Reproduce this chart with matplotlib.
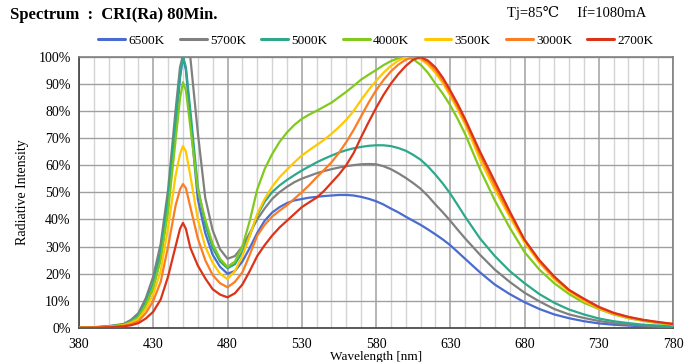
import matplotlib
matplotlib.use("Agg")
import matplotlib.pyplot as plt
from matplotlib.ticker import MultipleLocator, FuncFormatter

wavelength = [380, 390, 400,
              410, 415, 420, 425, 430, 435, 440, 445,
              448, 450, 452,
              455, 460, 465, 470, 475, 480, 485, 490, 495, 500,
              505, 510, 515, 520, 525, 530, 535, 540, 545, 550,
              555, 560, 565, 570, 575, 580, 585, 590, 595, 600,
              605, 610, 615, 620, 625, 630, 635, 640, 645, 650,
              660, 670, 680, 690, 700, 710, 720, 730, 740, 750, 760, 770, 780]

k6500 = [0.1, 0.2, 0.5,
         1.2, 2.2, 4, 8.5, 15, 26, 45, 74,
         92, 100, 95,
         77, 47.5, 35, 27, 22.5, 20, 21, 24.5, 29.5, 35,
         39.5, 42.5, 44.5, 46, 47, 47.5, 48, 48.3, 48.6, 48.8,
         49, 49, 48.8, 48.3, 47.6, 46.7, 45.5, 44, 42.6, 41,
         39.5, 38, 36.3, 34.5, 32.6, 30.5, 28, 25.5, 23, 20.5,
         16, 12.5, 9.5, 7, 5, 3.6, 2.5, 1.7, 1.2, 0.9, 0.6, 0.4, 0.3]

k5700 = [0.1, 0.3, 0.7,
         1.5, 3, 5.5, 11, 19, 31, 51, 80,
         96, 100.5, 102,
         99.5, 72, 48, 36, 29, 25.5, 26.5, 30, 35, 40,
         44, 47.5, 50, 52, 53.7, 55, 56, 57, 57.8, 58.5,
         59.1, 59.6, 60, 60.3, 60.4, 60.3, 59.6, 58.5, 57, 55.3,
         53.4, 51.3, 48.6, 45.5, 42.6, 39.5, 36.2, 33, 30, 27,
         21.5, 17, 13, 9.8, 7, 5, 3.7, 2.6, 1.8, 1.3, 0.9, 0.6, 0.4]

k5000 = [0.1, 0.2, 0.6,
         1.3, 2.5, 4.5, 9.5, 16.5, 28, 48, 76,
         93, 100, 96,
         80, 52, 38, 29.5, 24.5, 22, 23.5, 28, 34, 41.5,
         46.5, 50, 52.5, 54.5, 56.3, 58, 59.5, 61, 62.3, 63.5,
         64.6, 65.5, 66.2, 66.7, 67.1, 67.3, 67.3, 67, 66.3, 65.3,
         63.8, 62, 59.5, 56.5, 53.2, 49.5, 45.3, 41, 37, 33,
         26.5, 21, 16.5, 12.5, 9.3, 6.8, 5, 3.5, 2.5, 1.8, 1.2, 0.9, 0.6]

k4000 = [0.1, 0.2, 0.5,
         1.2, 2.2, 4, 8.5, 15, 25, 43, 69,
         84.5, 90.5, 87.5,
         74, 51, 40, 31, 25.5, 22.5, 24.5, 30, 39.5, 51,
         58.5, 64, 68.5, 72, 74.8, 77, 78.6, 80, 81.5, 83,
         85, 87, 89.2, 91.5, 93.3, 95, 96.8, 98.3, 99.4, 99.8,
         99, 97, 94, 90, 86.3, 82, 77, 71.5, 65, 58.5,
         47, 37, 28, 21.5, 16.5, 12.5, 9.3, 7, 5, 3.6, 2.6, 1.8, 1.2]

k3500 = [0.1, 0.2, 0.4,
         1, 1.8, 3.2, 7, 12.5, 21, 37, 56,
         64, 67, 65,
         56, 40, 30, 24, 20, 18, 21, 26.5, 34, 42,
         47.5, 52, 55.5, 58.3, 61, 63.5, 65.5, 67.4, 69.3, 71.5,
         74, 76.7, 80, 84, 87.7, 91, 94, 96.5, 98.5, 99.7,
         100, 99, 97, 94, 90.2, 85.5, 80.5, 75, 68.7, 62,
         51, 41, 31.5, 24, 18, 13.5, 10, 7.2, 5.2, 3.8, 2.8, 2, 1.4]

k3000 = [0.05, 0.15, 0.3,
         0.8, 1.4, 2.5, 5.5, 10, 17, 30, 45,
         51, 53, 51.5,
         44.5, 33, 25, 19.5, 16.5, 15, 17, 20.5, 27, 34,
         38, 41, 43.2, 45.2, 47.6, 50, 52.6, 55.5, 58.2, 61,
         64.5, 68.5, 73, 78, 83, 87.5, 91.3, 94.5, 97, 98.8,
         99.8, 99.5, 97.8, 95, 91.2, 86.5, 81.5, 76, 70, 63.8,
         52.5, 42, 32.5, 24.5, 18.5, 14, 10.5, 7.5, 5.4, 4, 2.9, 2.1, 1.5]

k2700 = [0.05, 0.1, 0.25,
         0.6, 1, 1.8, 3.5, 6, 10.5, 19, 30,
         36.5, 38.7, 36.5,
         29.5, 23, 18.3, 14.3, 12.3, 11.3, 12.8, 16, 21, 26.5,
         30.5, 34, 37, 39.5, 42, 44.5, 46.3, 48, 50.5, 53.5,
         56.5, 60, 64.5, 70.3, 75.8, 81, 85.8, 90, 93.5, 96.5,
         98.8, 99.8, 98.5, 96, 92.2, 87.5, 82.5, 77, 71, 65,
         54, 43, 32.5, 25, 19, 14, 10.8, 7.8, 5.6, 4.1, 3, 2.2, 1.5]

series_labels = ["6500K", "5700K", "5000K", "4000K", "3500K", "3000K", "2700K"]
series_values = [k6500, k5700, k5000, k4000, k3500, k3000, k2700]
series_colors = ["#4a6bd0", "#808080", "#2ea88a", "#82c91e", "#ffc800", "#fb7d24", "#dc3318"]

x_ticks = [380, 430, 480, 530, 580, 630, 680, 730, 780]

serif = ["Liberation Serif", "DejaVu Serif", "Noto Sans CJK SC"]
plt.rcParams["font.family"] = serif

fig = plt.figure(figsize=(6.95, 3.62), dpi=100)
ax = fig.add_axes([79 / 695, 1 - 328 / 362, (673 - 79) / 695, (328 - 56.5) / 362])

for lab, vals, col in zip(series_labels, series_values, series_colors):
    ax.plot(wavelength, vals, color=col, lw=1.6, label=lab, solid_joinstyle="round",
            solid_capstyle="round", clip_on=True, zorder=3)

ax.set_xlim(380, 780)
ax.set_ylim(0, 100)
ax.set_xticks(x_ticks)
ax.xaxis.set_minor_locator(MultipleLocator(10))
ax.yaxis.set_major_locator(MultipleLocator(10))
ax.yaxis.set_major_formatter(FuncFormatter(lambda v, p: f"{int(round(v))}%"))
ax.grid(which="minor", axis="x", color="#d4d4d4", lw=1.0, zorder=0)
ax.grid(which="major", axis="x", color="#a0a0a0", lw=1.1, zorder=1)
ax.grid(which="major", axis="y", color="#a0a0a0", lw=1.0, zorder=1)
ax.tick_params(which="both", length=0, labelsize=10, colors="black")
ax.tick_params(axis="x", pad=7)
ax.tick_params(axis="y", pad=6)
for s in ["top", "right"]:
    ax.spines[s].set_color("#808080")
    ax.spines[s].set_linewidth(1.2)
for s in ["left", "bottom"]:
    ax.spines[s].set_color("#404040")
    ax.spines[s].set_linewidth(1.2)

ax.set_ylabel("Radiative Intensity", fontsize=10, labelpad=7)
ax.set_xlabel("Wavelength [nm]", fontsize=9.5, labelpad=0.5)

leg = ax.legend(ncol=7, loc="center", bbox_to_anchor=(0.5, 1 + (56.5 - 40.5) / (328 - 56.5)),
                frameon=False, fontsize=9.6, handlelength=2.0, handletextpad=0.25,
                columnspacing=1.15, borderaxespad=0, borderpad=0)
for line in leg.get_lines():
    line.set_linewidth(2.2)

fig.text(10 / 695, 1 - 15 / 362, "Spectrum  :  CRI(Ra) 80Min.", fontsize=12,
         fontweight="bold", ha="left", va="center", family=serif)
fig.text(507 / 695, 1 - 13 / 362, "Tj=85℃     If=1080mA", fontsize=10.5,
         ha="left", va="center", family=serif)

fig.savefig("out.png", dpi=100)
